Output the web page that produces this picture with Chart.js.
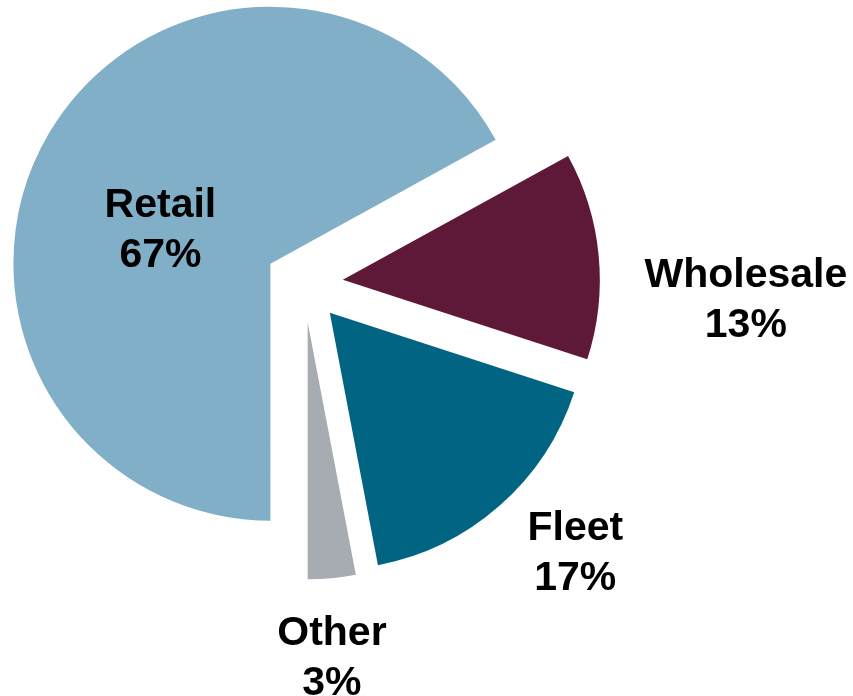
<!DOCTYPE html>
<html lang="en">
<head>
    <meta charset="UTF-8">
    <title>Sales mix</title>
    <style>
        body { margin: 0; background: #fff; }
        #wrap { width: 853px; height: 696px; }
    </style>
</head>
<body>
    <div id="wrap">
        <canvas id="myChart"></canvas>
    </div>

    <script src="https://cdn.jsdelivr.net/npm/chart.js@4.4.1/dist/chart.umd.min.js"></script>
    <script>
    // data
    const labels = ['Retail', 'Wholesale', 'Fleet', 'Other'];
    const shares = [67, 13, 17, 3];
    const colors = ['#80afc7', '#5e1938', '#006482', '#a7abb2'];

    // label placement: distance from centre (x radius) and angle shift (deg)
    const labelDist = [0.60, 1.72, 1.48, 1.45];
    const labelTurn = [-9.2, 7.1, -4.1, 1.1];

    const PIE_R = 257;
    const EXPLODE = 156; // chart.js moves a slice by offset/4

    // chart.js grows exploded slices and trims their angle - undo that
    const evenSlices = {
        id: 'evenSlices',
        afterDatasetUpdate(chart, args) {
            args.meta.data.forEach(function(arc) {
                var off = ((arc.options && arc.options.offset) || EXPLODE) / 4;
                var grow = off * (1 - Math.sin(Math.min(Math.PI, arc.circumference)));
                var r = arc.outerRadius;
                arc.outerRadius = r - grow;
                var widen = grow / Math.PI / r / 2;
                arc.startAngle -= widen;
                arc.endAngle += widen;
            });
        }
    };

    const sliceLabels = {
        id: 'sliceLabels',
        afterDatasetsDraw(chart) {
            const ctx = chart.ctx;
            const meta = chart.getDatasetMeta(0);
            ctx.save();
            ctx.font = 'bold 41px "Liberation Sans", Arial, sans-serif';
            ctx.fillStyle = '#000';
            ctx.textAlign = 'center';
            ctx.textBaseline = 'alphabetic';
            meta.data.forEach(function(arc, i) {
                var mid = (arc.startAngle + arc.endAngle) / 2 + labelTurn[i] * Math.PI / 180;
                var d = labelDist[i] * PIE_R;
                var cx = arc.x + Math.cos(mid) * d;
                var cy = arc.y + Math.sin(mid) * d;
                ctx.fillText(labels[i], cx, cy - 10);
                ctx.fillText(shares[i] + '%', cx, cy + 40);
            });
            ctx.restore();
        }
    };

    const ctx = document.getElementById('myChart').getContext('2d');
    const myChart = new Chart(ctx, {
        type: 'pie',
        data: {
            labels: labels,
            datasets: [{
                data: shares,
                backgroundColor: colors,
                borderWidth: 0,
                offset: EXPLODE
            }]
        },
        options: {
            responsive: true,
            maintainAspectRatio: false,
            animation: false,
            rotation: 180,
            radius: PIE_R,
            layout: { padding: { left: 0, top: 0, right: 245, bottom: 129 } },
            plugins: {
                legend: { display: false },
                tooltip: { enabled: false }
            }
        },
        plugins: [evenSlices, sliceLabels]
    });
    </script>
</body>
</html>
